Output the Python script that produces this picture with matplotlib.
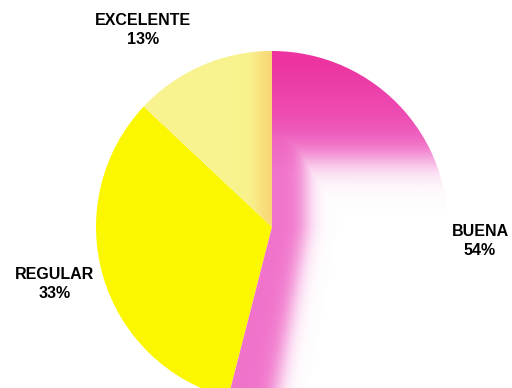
import numpy as np
import matplotlib
matplotlib.use('Agg')
import matplotlib.pyplot as plt

labels = ['BUENA', 'REGULAR', 'EXCELENTE']
values = [54, 33, 13]
colors = ['#ee3aa6', '#fbf700', '#f8f38e']

W, H = 512, 388
cx, cy, r = 272, H - 227, 176

fig = plt.figure(figsize=(W / 100, H / 100), dpi=100)
ax = fig.add_axes([0, 0, 1, 1])

wedges, _ = ax.pie(values, colors=colors, startangle=90, counterclock=False,
                   center=(cx, cy), radius=r, frame=True)
ax.set_xlim(0, W)
ax.set_ylim(0, H)
ax.set_aspect('equal')
ax.axis('off')

# faded ink on the BUENA slice: strong along the top and the left strip
buena = wedges[0]
buena.set_facecolor('none')
xs = np.arange(cx - 60, cx + r + 5)
ys = np.arange(cy - r - 5, cy + r + 5)
X, Y = np.meshgrid(xs, ys)
py = H - Y
top = 1 / (1 + np.exp((py - 160) / 10))
edge = cx - np.clip(py - 227, 0, None) * np.tan(np.radians(14.4))
strip = 34 + np.clip(py - 227, 0, None) * 0.08
left = 1 / (1 + np.exp((X - edge - strip) / 6))
alpha = np.clip(np.maximum(top, left * 0.92), 0, 1)
mix = np.clip((py - 60) / 140, 0, 0.8)[..., None]
strong = np.array([236, 50, 160]) / 255
light = np.array([240, 115, 208]) / 255
rgb = strong * (1 - mix) + light * mix
img = np.dstack([rgb, alpha])
im = ax.imshow(img, extent=(xs[0], xs[-1], ys[0], ys[-1]), origin='lower',
               interpolation='bilinear', zorder=2)
im.set_clip_path(buena)

# orange tint along the vertical edge of EXCELENTE
exc = wedges[2]
xs2 = np.arange(cx - r - 5, cx + 5)
X2, Y2 = np.meshgrid(xs2, ys)
band2 = 1 / (1 + np.exp((cx - 12 - X2) / 5)) * 0.5
tint2 = np.dstack([np.full_like(band2, 0.98), np.full_like(band2, 0.72),
                   np.full_like(band2, 0.35), band2])
im2 = ax.imshow(tint2, extent=(xs2[0], xs2[-1], ys[0], ys[-1]), origin='lower',
                interpolation='bilinear', zorder=2)
im2.set_clip_path(exc)

font = dict(family='Liberation Sans', weight='bold', fontsize=11.5,
            ha='center', va='center', linespacing=1.3)
ax.text(143, H - 30, f'{labels[2]}\n{values[2]}%', **font)
ax.text(55, H - 284, f'{labels[1]}\n{values[1]}%', **font)
ax.text(480, H - 241, f'{labels[0]}\n{values[0]}%', **font)

fig.savefig('out.png', dpi=100)
